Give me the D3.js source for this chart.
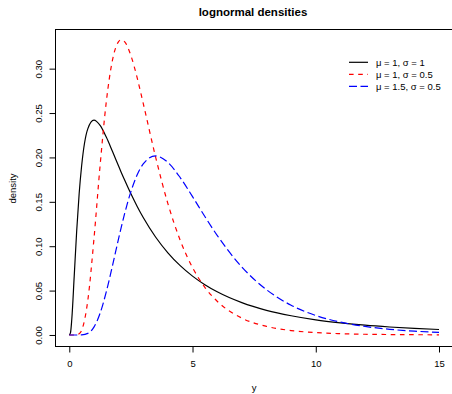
<!DOCTYPE html>
<html lang="en">
<head>
<meta charset="utf-8">
<script src="https://d3js.org/d3.v7.min.js"></script>
<style>
  body { margin: 0; background: #fff; }
  svg text { font-family: "Liberation Sans", Arial, sans-serif; fill: #000; }
</style>
</head>
<body>
<script>
// values
const xs = [0, 0.05, 0.1, 0.2, 0.3, 0.4, 0.5, 0.75, 1, 1.25, 1.5, 1.75, 2, 2.1, 2.25, 2.5, 2.75, 3,
            3.5, 4, 4.5, 5, 5.5, 6, 7, 8, 9, 10, 11, 12, 13, 14, 15];
const densBlack = [0, 0.0027, 0.0171, 0.0663, 0.1172, 0.1590, 0.1903, 0.2322, 0.2420, 0.2360, 0.2229,
                   0.2069, 0.1903, 0.1837, 0.1742, 0.1590, 0.1451, 0.1323, 0.1104, 0.0926, 0.0781,
                   0.0663, 0.0566, 0.0486, 0.0364, 0.0278, 0.0217, 0.0171, 0.0137, 0.0110, 0.0090,
                   0.0074, 0.0062];
const densRed = [0, 0, 0, 0, 0.0002, 0.0013, 0.0052, 0.0386, 0.1080, 0.1909, 0.2623, 0.3094, 0.3305,
                 0.3326, 0.3302, 0.3147, 0.2901, 0.2608, 0.2006, 0.1480, 0.1067, 0.0759, 0.0537,
                 0.0380, 0.0190, 0.0097, 0.0050, 0.0027, 0.0015, 0.0008, 0.0005, 0.0003, 0.0002];
const densBlue = [0, 0, 0, 0, 0, 0, 0.0001, 0.0018, 0.0089, 0.0245, 0.0485, 0.0778, 0.1085, 0.1204,
                  0.1372, 0.1615, 0.1801, 0.1927, 0.2017, 0.1944, 0.1773, 0.1558, 0.1334, 0.1122,
                  0.0766, 0.0510, 0.0335, 0.0220, 0.0145, 0.0096, 0.0064, 0.0043, 0.0029];

const seriesNames = ["\u03bc = 1, \u03c3 = 1", "\u03bc = 1, \u03c3 = 0.5", "\u03bc = 1.5, \u03c3 = 0.5"];
const xTicks = [0, 5, 10, 15];
const yTicks = [0, 0.05, 0.10, 0.15, 0.20, 0.25, 0.30];
const xLim = [0, 15], yLim = [0, 0.33];

const W = 452, H = 394;
const series = [
  { name: seriesNames[0], vals: densBlack, color: "#000", dash: null },
  { name: seriesNames[1], vals: densRed, color: "#ff0000", dash: "4.6,4.6" },
  { name: seriesNames[2], vals: densBlue, color: "#0000ff", dash: "8,3.5" }
];

// R style 4% padding on the axis limits
const pad = (l) => { const d = (l[1] - l[0]) * 0.04; return [l[0] - d, l[1] + d]; };

const x = d3.scaleLinear().domain(pad(xLim)).range([54.5, 453.8]);
const y = d3.scaleLinear().domain(pad(yLim)).range([346.7, 30.3]);

const svg = d3.select("body").append("svg")
  .attr("width", W).attr("height", H);

// title
svg.append("text")
  .attr("x", 253).attr("y", 16)
  .attr("text-anchor", "middle")
  .style("font-size", "11.5px").style("font-weight", "bold")
  .text("lognormal densities");

// curves
const line = d3.line()
  .x((d, i) => x(xs[i]))
  .y(d => y(d))
  .curve(d3.curveMonotoneX);

series.forEach(s => {
  svg.append("path")
    .datum(s.vals)
    .attr("fill", "none")
    .attr("stroke", s.color)
    .attr("stroke-width", 1.2)
    .attr("stroke-dasharray", s.dash)
    .attr("d", line);
});

// plot box
svg.append("rect")
  .attr("x", Math.round(x.range()[0]) + 0.5)
  .attr("y", Math.round(y.range()[1]) - 0.5)
  .attr("width", x.range()[1] - x.range()[0])
  .attr("height", Math.round(y.range()[0]) - Math.round(y.range()[1]))
  .attr("fill", "none").attr("stroke", "#000").attr("stroke-width", 1);

// x axis
const xAxis = svg.append("g")
  .attr("transform", `translate(0,${Math.round(y.range()[0]) - 0.5})`)
  .call(d3.axisBottom(x).tickValues(xTicks).tickSize(6).tickSizeOuter(0).tickFormat(d3.format("d")));
xAxis.select(".domain").remove();
xAxis.selectAll("text").attr("dy", null).attr("y", 20.5).style("font-size", "9.5px").attr("font-family", null);

// y axis (labels rotated as in R)
const yAxis = svg.append("g")
  .attr("transform", `translate(${Math.round(x.range()[0]) + 0.5},0)`)
  .call(d3.axisLeft(y).tickValues(yTicks).tickSize(6).tickSizeOuter(0).tickFormat(d3.format(".2f")));
yAxis.select(".domain").remove();
yAxis.selectAll("text")
  .attr("x", null).attr("dy", null)
  .attr("text-anchor", "middle")
  .attr("transform", "translate(-13.5,0) rotate(-90)")
  .style("font-size", "9.5px").attr("font-family", null);

// axis titles
svg.append("text")
  .attr("x", x(7.5)).attr("y", 390.5)
  .attr("text-anchor", "middle").style("font-size", "9.5px")
  .text("y");
svg.append("text")
  .attr("transform", `translate(15.5,${y(0.165)}) rotate(-90)`)
  .attr("text-anchor", "middle").style("font-size", "9.5px")
  .text("density");

// legend (no box)
const leg = svg.append("g").attr("transform", "translate(349,62.3)");
series.forEach((s, i) => {
  leg.append("line")
    .attr("x1", 0).attr("x2", 19)
    .attr("y1", i * 12).attr("y2", i * 12)
    .attr("stroke", s.color).attr("stroke-width", 1.2)
    .attr("stroke-dasharray", s.dash);
  leg.append("text")
    .attr("x", 27).attr("y", i * 12 + 3.5)
    .style("font-size", "9.5px")
    .text(s.name);
});
</script>
</body>
</html>
